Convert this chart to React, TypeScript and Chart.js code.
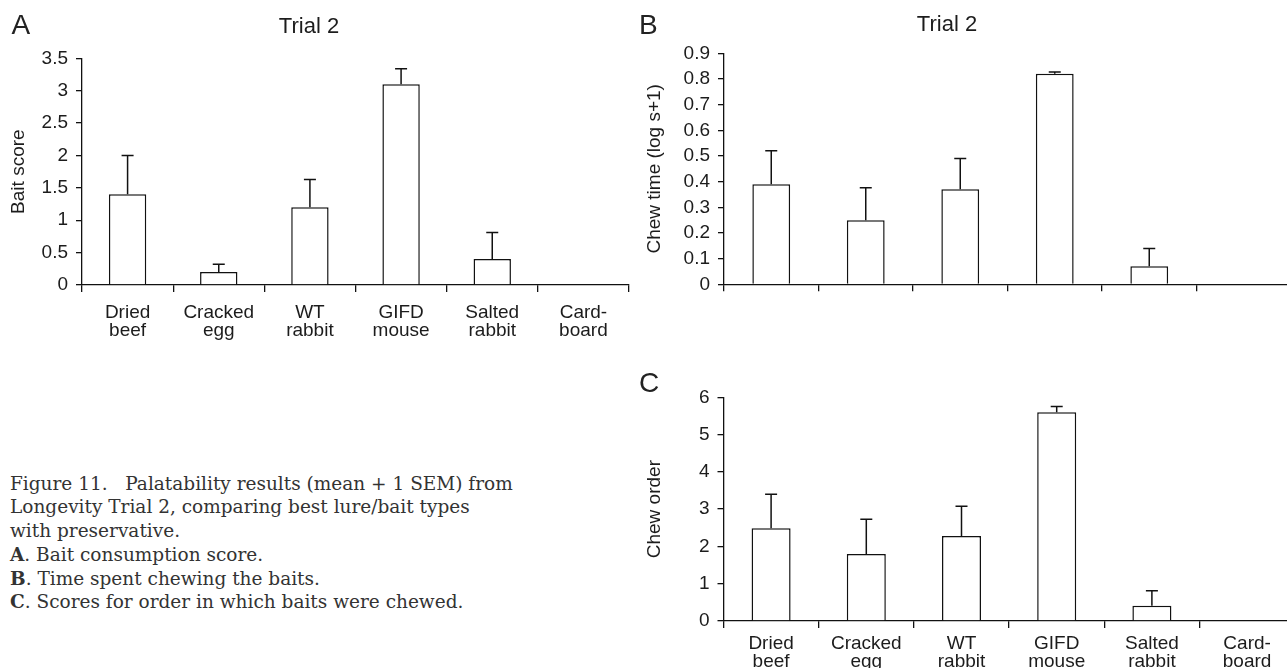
import React, { useEffect, useRef } from "react";
import { Chart, registerables } from "chart.js";

Chart.register(...registerables);

// ---------- data ----------
const categories: string[][] = [
  ["Dried", "beef"],
  ["Cracked", "egg"],
  ["WT", "rabbit"],
  ["GIFD", "mouse"],
  ["Salted", "rabbit"],
  ["Card-", "board"],
];

const baitScore = [1.4, 0.2, 1.2, 3.1, 0.4, 0];
const baitScoreSem = [0.6, 0.12, 0.43, 0.24, 0.41, 0];
const baitScoreTicks = [0, 0.5, 1, 1.5, 2, 2.5, 3, 3.5];

const chewTime = [0.39, 0.25, 0.37, 0.82, 0.07, 0];
const chewTimeSem = [0.13, 0.126, 0.12, 0.007, 0.069, 0];
const chewTimeTicks = [0, 0.1, 0.2, 0.3, 0.4, 0.5, 0.6, 0.7, 0.8, 0.9];

const chewOrder = [2.49, 1.8, 2.28, 5.6, 0.41, 0];
const chewOrderSem = [0.91, 0.93, 0.8, 0.15, 0.4, 0];
const chewOrderTicks = [0, 1, 2, 3, 4, 5, 6];

const captionLines = [
  "Figure 11.   Palatability results (mean + 1 SEM) from",
  "Longevity Trial 2, comparing best lure/bait types",
  "with preservative.",
];
const captionItems: [string, string][] = [
  ["A", ". Bait consumption score."],
  ["B", ". Time spent chewing the baits."],
  ["C", ". Scores for order in which baits were chewed."],
];

// ---------- style ----------
const SANS = "'Liberation Sans', Arial, Helvetica, sans-serif";
const SERIF = "'DejaVu Serif', 'Liberation Serif', serif";
const INK = "#1c1c1c";
const LINE = "#111111";

type Pad = { left: number; right: number; top: number; bottom: number };

type PanelProps = {
  left: number;
  top: number;
  width: number;
  height: number;
  pad: Pad;
  yWidth: number;
  xHeight: number;
  title?: string;
  titlePad?: { top: number; bottom: number };
  yTitle: string;
  yTitleOffset: number;
  values: number[];
  sem: number[];
  ticks: number[];
  showXLabels: boolean;
  xLabelPad: number;
  barPct: number;
};

function makeErrorBars(sem: number[]) {
  return {
    id: "errorBars",
    afterDatasetsDraw(chart: any) {
      const ctx = chart.ctx as CanvasRenderingContext2D;
      const yScale = chart.scales.y;
      const meta = chart.getDatasetMeta(0);
      const data = chart.data.datasets[0].data as number[];
      ctx.save();
      ctx.strokeStyle = LINE;
      ctx.lineWidth = 1.5;
      meta.data.forEach((bar: any, i: number) => {
        const s = sem[i];
        if (!s) return;
        const x = bar.x;
        const yBase = bar.y;
        const yTop = yScale.getPixelForValue(data[i] + s);
        ctx.beginPath();
        ctx.moveTo(x, yBase);
        ctx.lineTo(x, yTop);
        ctx.moveTo(x - 6, yTop);
        ctx.lineTo(x + 6, yTop);
        ctx.stroke();
      });
      ctx.restore();
    },
  };
}

function Panel(p: PanelProps) {
  const ref = useRef<HTMLCanvasElement | null>(null);
  useEffect(() => {
    if (!ref.current) return;
    const chart = new Chart(ref.current, {
      type: "bar",
      data: {
        labels: categories,
        datasets: [
          {
            data: p.values,
            backgroundColor: "#ffffff",
            borderColor: LINE,
            borderWidth: 1.5,
            barPercentage: p.barPct,
            categoryPercentage: 1,
          },
        ],
      },
      options: {
        animation: false,
        responsive: false,
        devicePixelRatio: 1,
        events: [],
        layout: { padding: p.pad },
        plugins: {
          legend: { display: false },
          tooltip: { enabled: false },
          title: p.title
            ? {
                display: true,
                text: p.title,
                color: INK,
                font: { family: SANS, size: 22, weight: "normal", lineHeight: 1.2 },
                padding: p.titlePad,
              }
            : { display: false },
        },
        scales: {
          x: {
            type: "category",
            offset: true,
            grid: {
              offset: true,
              drawOnChartArea: false,
              drawTicks: true,
              tickLength: 7,
              color: LINE,
              lineWidth: 1.3,
            },
            border: { display: true, color: LINE, width: 1.3 },
            ticks: {
              display: p.showXLabels,
              color: INK,
              font: { family: SANS, size: 19, lineHeight: 0.95 },
              padding: p.xLabelPad,
              maxRotation: 0,
              minRotation: 0,
              autoSkip: false,
            },
            afterFit: (s: any) => {
              s.height = p.xHeight;
            },
          },
          y: {
            min: p.ticks[0],
            max: p.ticks[p.ticks.length - 1],
            afterBuildTicks: (s: any) => {
              s.ticks = p.ticks.map((v) => ({ value: v }));
            },
            grid: {
              drawOnChartArea: false,
              drawTicks: true,
              tickLength: 6,
              color: LINE,
              lineWidth: 1.3,
            },
            border: { display: true, color: LINE, width: 1.3 },
            ticks: {
              color: INK,
              font: { family: SANS, size: 19 },
              padding: 8,
              autoSkip: false,
              callback: (v: any) => String(v),
            },
            title: {
              display: true,
              text: p.yTitle,
              color: INK,
              font: { family: SANS, size: 19, lineHeight: 1.2 },
              padding: { top: p.yTitleOffset - 11.4, bottom: 0 },
            },
            afterFit: (s: any) => {
              s.width = p.yWidth;
            },
          },
        },
      } as any,
      plugins: [makeErrorBars(p.sem)],
    });
    return () => chart.destroy();
  }, []);
  return (
    <canvas
      ref={ref}
      width={p.width}
      height={p.height}
      style={{
        position: "absolute",
        left: p.left,
        top: p.top,
        width: p.width,
        height: p.height,
      }}
    />
  );
}

const letterStyle = (left: number, top: number): React.CSSProperties => ({
  position: "absolute",
  left,
  top,
  fontFamily: SANS,
  fontSize: 28,
  lineHeight: "28px",
  color: "#222",
});

export default function App() {
  return (
    <div
      style={{
        position: "fixed",
        left: 0,
        top: 0,
        width: 1287,
        height: 668,
        overflow: "hidden",
        background: "#ffffff",
      }}
    >
      <Panel
        left={-11}
        top={0}
        width={650}
        height={345}
        pad={{ left: 0, right: 10, top: 0, bottom: 0 }}
        yWidth={93}
        xHeight={60}
        title="Trial 2"
        titlePad={{ top: 13.3, bottom: 18.6 }}
        yTitle="Bait score"
        yTitleOffset={29.3}
        values={baitScore}
        sem={baitScoreSem}
        ticks={baitScoreTicks}
        showXLabels={true}
        xLabelPad={12}
        barPct={0.41}
      />
      <Panel
        left={603}
        top={0}
        width={700}
        height={345}
        pad={{ left: 0, right: 12, top: 0, bottom: 0 }}
        yWidth={121}
        xHeight={60.7}
        title="Trial 2"
        titlePad={{ top: 11.8, bottom: 15.1 }}
        yTitle="Chew time (log s+1)"
        yTitleOffset={51.4}
        values={chewTime}
        sem={chewTimeSem}
        ticks={chewTimeTicks}
        showXLabels={false}
        xLabelPad={7}
        barPct={0.4}
      />
      <Panel
        left={603}
        top={340}
        width={700}
        height={328}
        pad={{ left: 0, right: 8.3, top: 57.3, bottom: 0 }}
        yWidth={120.5}
        xHeight={47}
        yTitle="Chew order"
        yTitleOffset={51.4}
        values={chewOrder}
        sem={chewOrderSem}
        ticks={chewOrderTicks}
        showXLabels={true}
        xLabelPad={7}
        barPct={0.41}
      />
      <div style={letterStyle(11.5, 11.3)}>A</div>
      <div style={letterStyle(639, 11.3)}>B</div>
      <div style={letterStyle(639, 369.3)}>C</div>
      <div
        style={{
          position: "absolute",
          left: 10,
          top: 471.5,
          fontFamily: SERIF,
          fontSize: 18.5,
          lineHeight: "23.8px",
          color: "#333",
          whiteSpace: "pre",
        }}
      >
        {captionLines.map((l, i) => (
          <div key={"l" + i}>{l}</div>
        ))}
        {captionItems.map(([b, rest], i) => (
          <div key={"c" + i}>
            <b>{b}</b>
            {rest}
          </div>
        ))}
      </div>
    </div>
  );
}
